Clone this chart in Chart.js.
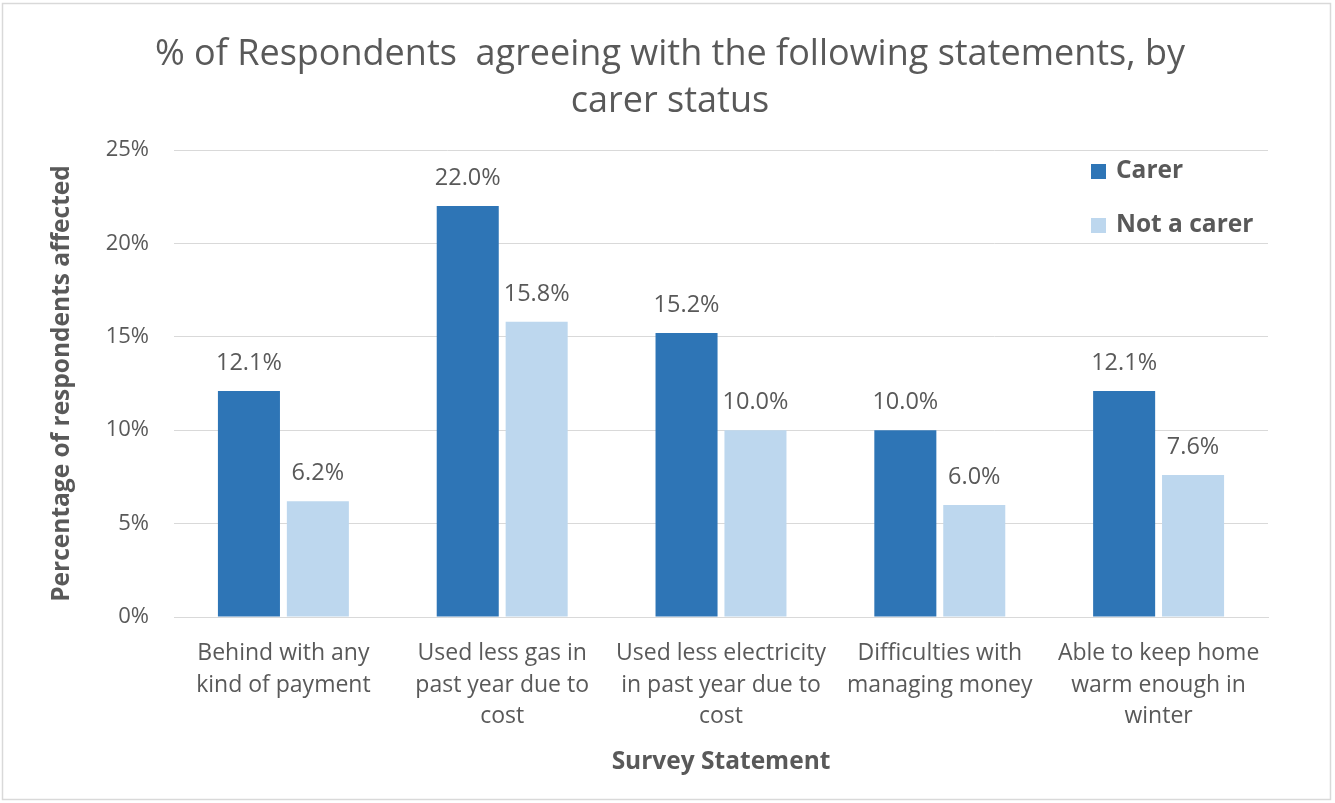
<!DOCTYPE html>
<html>
<head>
<meta charset="utf-8">
<script src="https://cdn.jsdelivr.net/npm/chart.js@4/dist/chart.umd.min.js"></script>
<style>
html,body{margin:0;padding:0;background:#fff;}
#wrap{position:relative;width:1335px;height:803px;}
</style>
</head>
<body>
<div id="wrap"><canvas id="c" width="1335" height="803"></canvas></div>
<script>
const categories = [
  ["Behind with any", "kind of payment"],
  ["Used less gas in", "past year due to", "cost"],
  ["Used less electricity", "in past year due to", "cost"],
  ["Difficulties with", "managing money"],
  ["Able to keep home", "warm enough in", "winter"]
];
const seriesNames = ["Carer", "Not a carer"];
const carerValues = [12.1, 22.0, 15.2, 10.0, 12.1];
const notCarerValues = [6.2, 15.8, 10.0, 6.0, 7.6];
const yTicks = [0, 5, 10, 15, 20, 25];
const titleLines = ["% of Respondents  agreeing with the following statements, by", "carer status"];
const xTitle = "Survey Statement";
const yTitle = "Percentage of respondents affected";

const FONT = "'Open Sans', Lato, sans-serif";
const colors = ["#2E75B6", "#BDD7EE"];

const framePlugin = {
  id: 'frame',
  beforeDraw(chart) {
    const ctx = chart.ctx;
    ctx.save();
    ctx.fillStyle = '#fff';
    ctx.fillRect(0, 0, chart.width, chart.height);
    ctx.strokeStyle = '#D9D9D9';
    ctx.lineWidth = 1.5;
    ctx.strokeRect(2.5, 3.5, 1328, 796);
    ctx.restore();
  }
};

const titlePlugin = {
  id: 'customTitle',
  afterDraw(chart) {
    const ctx = chart.ctx;
    ctx.save();
    ctx.font = "36px " + FONT;
    ctx.fillStyle = '#595959';
    ctx.textAlign = 'center';
    ctx.textBaseline = 'middle';
    const ys = [55, 102];
    titleLines.forEach((t, i) => ctx.fillText(t, 670, ys[i]));
    ctx.restore();
  }
};

const labelPlugin = {
  id: 'valueLabels',
  afterDatasetsDraw(chart) {
    const ctx = chart.ctx;
    ctx.save();
    ctx.font = "23.5px " + FONT;
    ctx.fillStyle = '#595959';
    ctx.textAlign = 'center';
    ctx.textBaseline = 'middle';
    chart.data.datasets.forEach((ds, di) => {
      const meta = chart.getDatasetMeta(di);
      meta.data.forEach((bar, i) => {
        ctx.fillText(ds.data[i].toFixed(1) + '%', bar.x, bar.y - 28);
      });
    });
    ctx.restore();
  }
};

const legendPlugin = {
  id: 'insideLegend',
  afterDraw(chart) {
    const ctx = chart.ctx;
    ctx.save();
    ctx.font = "bold 24.5px " + FONT;
    ctx.textBaseline = 'middle';
    ctx.textAlign = 'left';
    const x0 = 1091, ys = [171, 225];
    chart.data.datasets.forEach((ds, i) => {
      ctx.fillStyle = ds.backgroundColor;
      ctx.fillRect(x0, ys[i] - 7, 15, 15);
      ctx.fillStyle = '#595959';
      ctx.fillText(ds.label, x0 + 25, ys[i]);
    });
    ctx.restore();
  }
};

new Chart(document.getElementById('c'), {
  type: 'bar',
  data: {
    labels: categories,
    datasets: [
      { label: seriesNames[0], data: carerValues, backgroundColor: colors[0] },
      { label: seriesNames[1], data: notCarerValues, backgroundColor: colors[1] }
    ]
  },
  plugins: [framePlugin, labelPlugin, legendPlugin, titlePlugin],
  options: {
    responsive: false,
    animation: false,
    devicePixelRatio: 1,
    layout: { padding: { left: 0, right: 67, top: 150, bottom: 0 } },
    datasets: { bar: { categoryPercentage: 0.63, barPercentage: 0.9 } },
    plugins: {
      legend: { display: false },
      tooltip: { enabled: false },
      title: { display: false }
    },
    scales: {
      x: {
        grid: { display: false, drawTicks: false },
        border: { color: '#D9D9D9', width: 1 },
        ticks: {
          color: '#595959',
          font: { family: FONT, size: 23, lineHeight: 1.39 },
          padding: 20,
          maxRotation: 0,
          autoSkip: false
        },
        title: {
          display: true,
          text: xTitle,
          color: '#595959',
          font: { family: FONT, size: 24.5, weight: 'bold', lineHeight: 1.2 },
          padding: { top: 0, bottom: 26 }
        },
        afterFit(scale) { scale.height = 186; }
      },
      y: {
        min: 0,
        max: 25,
        afterBuildTicks(scale) { scale.ticks = yTicks.map(v => ({ value: v })); },
        grid: { color: '#D9D9D9', drawTicks: false },
        border: { display: false },
        ticks: {
          color: '#595959',
          font: { family: FONT, size: 22 },
          padding: 25,
          callback: v => v + '%'
        },
        title: {
          display: true,
          text: yTitle,
          color: '#595959',
          font: { family: FONT, size: 24.5, weight: 'bold', lineHeight: 1.2 },
          padding: { top: 47, bottom: 0 }
        },
        afterFit(scale) { scale.width = 174; }
      }
    }
  }
});
</script>
</body>
</html>
